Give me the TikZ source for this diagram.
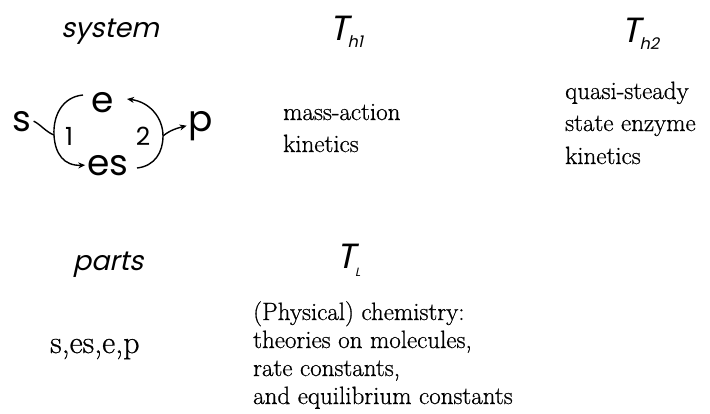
\documentclass[tikz,border=0pt]{standalone}
\usepackage{fontspec}
\newfontfamily\geo{Poppins}
\newfontfamily\geoit[FakeSlant=0.22]{Poppins}
\newfontfamily\scan[FakeBold=0.7]{Latin Modern Roman}
\usetikzlibrary{arrows.meta}
\tikzset{
  head/.style={inner sep=0pt, anchor=base, font=\geoit\fontsize{27}{27}\selectfont},
  txt/.style={inner sep=0pt, anchor=base west, font=\scan\fontsize{25}{30}\selectfont},
  spec/.style={inner sep=2pt, anchor=base, font=\geo\fontsize{36}{36}\selectfont},
  num/.style={inner sep=0pt, font=\geo\fontsize{25}{25}\selectfont},
  cyc/.style={line width=1.4pt},
  arr/.style={cyc, -{Stealth[length=7pt,width=6pt]}},
}
\newcommand{\Tsym}[1]{{\geoit\fontsize{35}{35}\selectfont T}\kern-0.5pt\raisebox{-7pt}{\geoit\fontsize{16}{16}\selectfont #1}}
\begin{document}
\begin{tikzpicture}[x=1pt,y=-1pt]
\useasboundingbox (0,0) rectangle (710,413);
% headings
\node[head] (system) at (110,37) {system};
\node[head] (parts) at (108,270) {parts};
\node[inner sep=0pt, anchor=base west] (Th1) at (329,40) {\Tsym{h1}};
\node[inner sep=0pt, anchor=base west] (Th2) at (621,42) {\Tsym{h2}};
\node[inner sep=0pt, anchor=base west] (TL) at (336,268) {{\geoit\fontsize{35}{35}\selectfont T}\kern0pt\raisebox{-8pt}{\geoit\fontsize{12}{12}\selectfont L}};
% theory texts
\node[txt] (ma1) at (283,120) {mass-action};
\node[txt] (ma2) at (283,152) {kinetics};
\node[txt] (qs1) at (565,99) {quasi-steady};
\node[txt] (qs2) at (565,131) {state enzyme};
\node[txt] (qs3) at (565,164) {kinetics};
\node[txt] (pc1) at (253,320) {(Physical) chemistry:};
\node[txt] (pc2) at (253,348) {theories on molecules,};
\node[txt] (pc3) at (253,376) {rate constants,};
\node[txt] (pc4) at (253,404) {and equilibrium constants};
\node[txt, font=\scan\fontsize{32}{32}\selectfont] (plist) at (50,353) {s,es,e,p};
% reaction cycle
\node[spec] (e) at (103,112) {e};
\node[spec] (es) at (108,175) {es};
\node[spec] (s) at (22,131) {s};
\node[spec] (p) at (201,131) {p};
\node[num] (n1) at (69,136) {1};
\node[num] (n2) at (143,136) {2};
\coordinate (L0) at (83,95);
\coordinate (J1) at (54,135);
\coordinate (R0) at (137,168);
\coordinate (J2) at (163,136);
\coordinate (eR) at (127,99);
\draw[arr] (L0) .. controls (62,97) and (53,116) .. (J1)
  .. controls (55,154) and (64,166) .. (es.west);
\draw[arr] (R0) .. controls (155,166) and (163,152) .. (J2)
  .. controls (163,118) and (150,102) .. (eR);
\draw[cyc] (s.east) .. controls (40,124) and (46,132) .. (J1);
\draw[arr] (J2) .. controls (170,130) and (178,128) .. (p.west);
\end{tikzpicture}
\end{document}
